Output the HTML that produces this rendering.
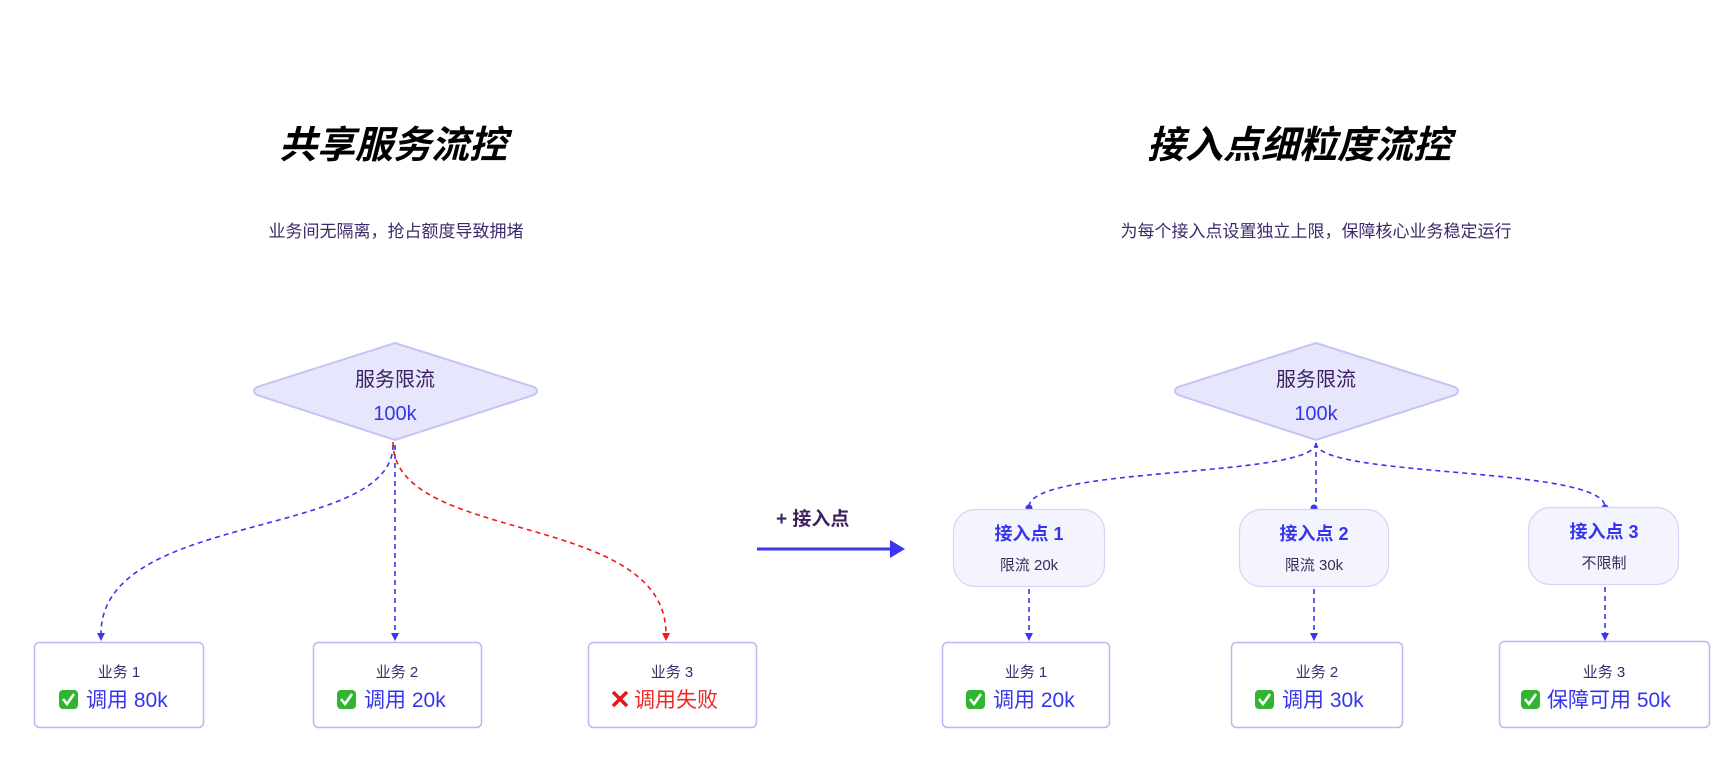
<!DOCTYPE html>
<html><head><meta charset="utf-8"><style>
html,body{margin:0;padding:0;background:#fff;}
svg{display:block;}
text{font-family:"Liberation Sans","Noto Sans CJK SC",sans-serif;}
</style></head><body>
<svg width="1716" height="760" viewBox="0 0 1716 760" xmlns="http://www.w3.org/2000/svg">
<defs>
<marker id="ab" markerWidth="8" markerHeight="8" refX="4" refY="7" orient="auto-start-reverse" markerUnits="userSpaceOnUse" viewBox="0 0 8 8"><path d="M0,0 L8,0 L4,8 Z" fill="#3a35f0" transform="rotate(0)"/></marker>
</defs>
<!-- titles -->
<text x="393" y="158" font-size="38" font-weight="bold" font-style="italic" text-anchor="middle" fill="#000">共享服务流控</text>
<text x="396" y="237" font-size="17" text-anchor="middle" fill="#3d2a6a">业务间无隔离，抢占额度导致拥堵</text>
<text x="1299" y="158" font-size="38" font-weight="bold" font-style="italic" text-anchor="middle" fill="#000">接入点细粒度流控</text>
<text x="1316" y="237" font-size="17" text-anchor="middle" fill="#3d2a6a">为每个接入点设置独立上限，保障核心业务稳定运行</text>

<!-- left diamond -->
<path d="M395,343 L534,387 Q540,391 534,395 L395,440 L257,395 Q251,391 257,387 Z" fill="#e6e6fc" stroke="#c4c4f6" stroke-width="2"/>
<text x="395" y="386" font-size="20" text-anchor="middle" fill="#3d2060">服务限流</text>
<text x="395" y="420" font-size="20" text-anchor="middle" fill="#3535ee">100k</text>

<!-- left edges -->
<g fill="none" stroke-width="1.6" stroke-dasharray="5,4">
<path d="M393,445 C393,540 101,510 101,634" stroke="#3a35f0"/>
<path d="M395,445 L395,634" stroke="#3a35f0"/>
<path d="M393,442 C393,545 666,510 666,634" stroke="#f01818"/>
</g>
<path d="M97,633 L105,633 L101,641 Z" fill="#3a35f0"/>
<path d="M391,633 L399,633 L395,641 Z" fill="#3a35f0"/>
<path d="M662,633 L670,633 L666,641 Z" fill="#f01818"/>

<!-- left boxes -->
<g fill="#fff" stroke="#bdb6f2" stroke-width="1.5">
<rect x="34.5" y="642.5" width="169" height="85" rx="5"/>
<rect x="313.5" y="642.5" width="168" height="85" rx="5"/>
<rect x="588.5" y="642.5" width="168" height="85" rx="5"/>
</g>
<g font-size="15" text-anchor="middle" fill="#3d2a6a">
<text x="119" y="677">业务 1</text>
<text x="397" y="677">业务 2</text>
<text x="672" y="677">业务 3</text>
</g>
<!-- check icons -->
<g>
<rect x="59" y="690" width="19" height="19" rx="4" fill="#2fb52f"/>
<path d="M63,699 L67,704 L74,694" stroke="#fff" stroke-width="2.6" fill="none"/>
<rect x="337" y="690" width="19" height="19" rx="4" fill="#2fb52f"/>
<path d="M341,699 L345,704 L352,694" stroke="#fff" stroke-width="2.6" fill="none"/>
<path d="M613,692 L627,706 M627,692 L613,706" stroke="#e8141e" stroke-width="3.5"/>
</g>
<g font-size="21" fill="#3535ee">
<text x="86" y="707">调用 80k</text>
<text x="364" y="707">调用 20k</text>
<text x="634" y="707" fill="#f02828">调用失败</text>
</g>

<!-- middle arrow -->
<text x="776" y="525" font-size="19" font-weight="bold" fill="#3d2060">+ 接入点</text>
<line x1="757" y1="549" x2="892" y2="549" stroke="#3a35f0" stroke-width="3"/>
<path d="M890,540 L905,549 L890,558 Z" fill="#3a35f0"/>

<!-- right diamond -->
<path d="M1316,343 L1455,387 Q1461,391 1455,395 L1316,440 L1178,395 Q1172,391 1178,387 Z" fill="#e6e6fc" stroke="#c4c4f6" stroke-width="2"/>
<text x="1316" y="386" font-size="20" text-anchor="middle" fill="#3d2060">服务限流</text>
<text x="1316" y="420" font-size="20" text-anchor="middle" fill="#3535ee">100k</text>

<!-- right edges -->
<g fill="none" stroke="#3a35f0" stroke-width="1.6" stroke-dasharray="5,4">
<path d="M1316,443 C1316,478 1029,466 1029,507"/>
<path d="M1316,443 L1316,507"/>
<path d="M1316,443 C1316,478 1605,466 1605,507"/>
<path d="M1029,589 L1029,634"/>
<path d="M1314,589 L1314,634"/>
<path d="M1605,587 L1605,634"/>
</g>
<circle cx="1029" cy="508" r="3.5" fill="#3a35f0"/>
<circle cx="1314" cy="508" r="3.5" fill="#3a35f0"/>
<circle cx="1605" cy="508" r="3.5" fill="#3a35f0"/>
<path d="M1025,633 L1033,633 L1029,641 Z" fill="#3a35f0"/>
<path d="M1310,633 L1318,633 L1314,641 Z" fill="#3a35f0"/>
<path d="M1601,633 L1609,633 L1605,641 Z" fill="#3a35f0"/>

<!-- access point boxes -->
<g fill="#f4f4fe" stroke="#d6d4f8" stroke-width="1.2">
<rect x="953.5" y="509.5" width="151" height="77" rx="22"/>
<rect x="1239.5" y="509.5" width="149" height="77" rx="22"/>
<rect x="1528.5" y="507.5" width="150" height="77" rx="22"/>
</g>
<g font-size="18" font-weight="bold" text-anchor="middle" fill="#3535ee">
<text x="1029" y="540">接入点 1</text>
<text x="1314" y="540">接入点 2</text>
<text x="1604" y="538">接入点 3</text>
</g>
<g font-size="15" text-anchor="middle" fill="#3d2a5a">
<text x="1029" y="570">限流 20k</text>
<text x="1314" y="570">限流 30k</text>
<text x="1604" y="568">不限制</text>
</g>

<!-- right business boxes -->
<g fill="#fff" stroke="#bdb6f2" stroke-width="1.5">
<rect x="942.5" y="642.5" width="167" height="85" rx="5"/>
<rect x="1231.5" y="642.5" width="171" height="85" rx="5"/>
<rect x="1499.5" y="641.5" width="210" height="86" rx="5"/>
</g>
<g font-size="15" text-anchor="middle" fill="#3d2a6a">
<text x="1026" y="677">业务 1</text>
<text x="1317" y="677">业务 2</text>
<text x="1604" y="677">业务 3</text>
</g>
<g>
<rect x="966" y="690" width="19" height="19" rx="4" fill="#2fb52f"/>
<path d="M970,699 L974,704 L981,694" stroke="#fff" stroke-width="2.6" fill="none"/>
<rect x="1255" y="690" width="19" height="19" rx="4" fill="#2fb52f"/>
<path d="M1259,699 L1263,704 L1270,694" stroke="#fff" stroke-width="2.6" fill="none"/>
<rect x="1521" y="690" width="19" height="19" rx="4" fill="#2fb52f"/>
<path d="M1525,699 L1529,704 L1536,694" stroke="#fff" stroke-width="2.6" fill="none"/>
</g>
<g font-size="21" fill="#3535ee">
<text x="993" y="707">调用 20k</text>
<text x="1282" y="707">调用 30k</text>
<text x="1547" y="707">保障可用 50k</text>
</g>
</svg>
</body></html>
